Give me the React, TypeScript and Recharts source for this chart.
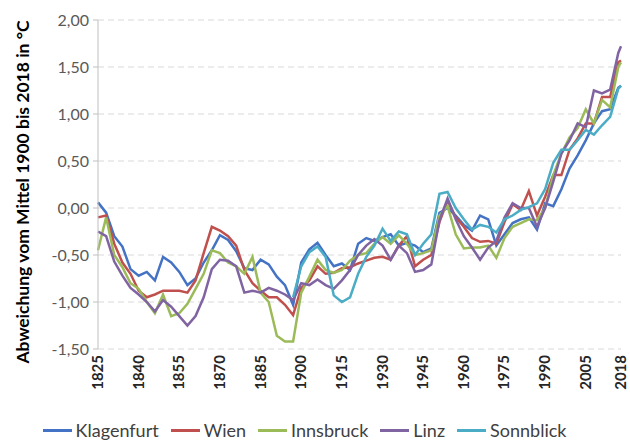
import { CartesianGrid, Legend, Line, LineChart, XAxis, YAxis } from 'recharts'

const years = [
  1825, 1828, 1831, 1834, 1837, 1840, 1843, 1846, 1849, 1852,
  1855, 1858, 1861, 1864, 1867, 1870, 1873, 1876, 1879, 1882,
  1885, 1888, 1891, 1894, 1897, 1900, 1903, 1906, 1909, 1912,
  1915, 1918, 1921, 1924, 1927, 1930, 1933, 1936, 1939, 1942,
  1945, 1948, 1951, 1954, 1957, 1960, 1963, 1966, 1969, 1972,
  1975, 1978, 1981, 1984, 1987, 1990, 1993, 1996, 1999, 2002,
  2005, 2008, 2011, 2014, 2017, 2018,
]

const klagenfurt = [
  0.06, -0.05, -0.3, -0.41, -0.65, -0.72, -0.68, -0.77, -0.52, -0.58,
  -0.68, -0.82, -0.75, -0.58, -0.45, -0.29, -0.34, -0.46, -0.64, -0.66,
  -0.55, -0.6, -0.73, -0.82, -1.03, -0.58, -0.44, -0.37, -0.5, -0.62,
  -0.59, -0.66, -0.38, -0.32, -0.35, -0.31, -0.28, -0.4, -0.37, -0.4,
  -0.47, -0.43, -0.05, 0.0, -0.08, -0.18, -0.24, -0.08, -0.12, -0.4,
  -0.28, -0.16, -0.12, -0.1, -0.23, 0.05, 0.02, 0.2, 0.42, 0.56,
  0.72, 0.9, 1.03, 1.05, 1.28, 1.3,
]

const wien = [
  -0.1, -0.08, -0.38, -0.58, -0.7, -0.88, -0.95, -0.92, -0.88, -0.88,
  -0.88, -0.9, -0.77, -0.48, -0.2, -0.24, -0.3, -0.4, -0.66, -0.8,
  -0.88, -0.95, -0.95, -1.03, -1.14, -0.85, -0.77, -0.62, -0.7, -0.69,
  -0.64, -0.63, -0.59, -0.56, -0.53, -0.52, -0.55, -0.4, -0.3, -0.62,
  -0.55, -0.5, -0.15, 0.08, -0.1, -0.2, -0.32, -0.36, -0.35, -0.38,
  -0.15, 0.04, -0.02, 0.18, -0.08, 0.12, 0.35, 0.35, 0.62, 0.74,
  0.9, 0.9, 1.18, 1.18, 1.55, 1.57,
]

const innsbruck = [
  -0.45, -0.1, -0.5, -0.63, -0.8, -0.86, -1.0, -1.12, -0.92, -1.15,
  -1.12, -1.02, -0.86, -0.7, -0.45, -0.48, -0.58, -0.62, -0.7, -0.52,
  -0.9, -1.0, -1.36, -1.42, -1.42, -0.9, -0.73, -0.55, -0.66, -0.69,
  -0.66, -0.56, -0.5, -0.48, -0.38, -0.31, -0.38, -0.29, -0.38, -0.5,
  -0.48, -0.45, -0.08, 0.02, -0.28, -0.43, -0.42, -0.42, -0.4, -0.53,
  -0.32, -0.2, -0.16, -0.12, -0.13, 0.0, 0.35, 0.58, 0.75, 0.85,
  1.05, 0.9, 1.15, 1.07, 1.5, 1.55,
]

const linz = [
  -0.25, -0.3, -0.57, -0.72, -0.85, -0.92, -1.0, -1.1, -0.98, -1.05,
  -1.15, -1.25, -1.15, -0.95, -0.65, -0.55, -0.56, -0.62, -0.9, -0.88,
  -0.9, -0.85, -0.88, -0.92, -0.98, -0.8, -0.82, -0.76, -0.82, -0.86,
  -0.77, -0.66, -0.5, -0.4, -0.33, -0.4, -0.55, -0.4, -0.48, -0.68,
  -0.66, -0.6, -0.13, 0.1, -0.12, -0.3, -0.42, -0.55, -0.42, -0.35,
  -0.1, 0.05, 0.0, 0.0, -0.2, 0.0, 0.28, 0.58, 0.72, 0.9,
  0.86, 1.25, 1.22, 1.26, 1.65, 1.72,
]

const sonnblick = [
  null, null, null, null, null, null, null, null, null, null,
  null, null, null, null, null, null, null, null, null, null,
  null, null, null, null, -0.95, -0.62, -0.47, -0.41, -0.52, -0.93,
  -1.0, -0.95, -0.7, -0.52, -0.4, -0.22, -0.35, -0.25, -0.28, -0.5,
  -0.38, -0.28, 0.15, 0.17, 0.0, -0.12, -0.23, -0.18, -0.2, -0.26,
  -0.12, -0.08, -0.02, 0.01, 0.05, 0.2, 0.48, 0.62, 0.62, 0.72,
  0.83, 0.78, 0.88, 0.97, 1.27, 1.3,
]

const xTicks = [1825, 1840, 1855, 1870, 1885, 1900, 1915, 1930, 1945, 1960, 1975, 1990, 2005, 2018]
const yTicks = [-1.5, -1, -0.5, 0, 0.5, 1, 1.5, 2]

const series = [
  { name: 'Klagenfurt', color: '#4472C4', values: klagenfurt },
  { name: 'Wien', color: '#C0504D', values: wien },
  { name: 'Innsbruck', color: '#9BBB59', values: innsbruck },
  { name: 'Linz', color: '#8064A2', values: linz },
  { name: 'Sonnblick', color: '#4BACC6', values: sonnblick },
]

const data = years.map((year, i) => {
  const row: Record<string, number | null> = { year }
  series.forEach((s) => {
    row[s.name] = s.values[i]
  })
  return row
})

const font = 'Lato, "Open Sans", sans-serif'

function YearTick({ x, y, payload }: any) {
  return (
    <text
      x={x}
      y={y}
      dy={5}
      transform={`rotate(-90 ${x} ${y})`}
      textAnchor="end"
      fontFamily={font}
      fontSize={15}
      fontWeight="bold"
      fill="#262626"
    >
      {payload.value}
    </text>
  )
}

function LegendContent() {
  return (
    <div
      style={{
        display: 'flex',
        justifyContent: 'center',
        height: 36,
        paddingTop: 18,
        boxSizing: 'border-box',
        fontFamily: font,
        fontSize: 18,
        lineHeight: '22px',
        color: '#404040',
      }}
    >
      {series.map((s) => (
        <span key={s.name} style={{ display: 'flex', alignItems: 'center', marginRight: 12 }}>
          <span style={{ width: 29, height: 3, background: s.color, marginRight: 4 }} />
          {s.name}
        </span>
      ))}
    </div>
  )
}

export default function App() {
  return (
    <div style={{ position: 'absolute', left: 0, top: 0, background: '#fff' }}>
      <LineChart width={630} height={443} data={data} margin={{ top: 20, right: 9, bottom: 4, left: 0 }}>
        <CartesianGrid vertical={false} stroke="#D9D9D9" strokeDasharray="6 4" />
        <XAxis
          dataKey="year"
          type="number"
          domain={[1825, 2018]}
          ticks={xTicks}
          interval={0}
          tick={<YearTick />}
          tickLine={false}
          axisLine={false}
          tickSize={0}
          tickMargin={6}
          height={54}
        />
        <YAxis
          domain={[-1.5, 2]}
          ticks={yTicks}
          interval={0}
          width={98}
          tickFormatter={(v: number) => v.toFixed(2).replace('.', ',')}
          tick={{ fontFamily: font, fontSize: 16, fill: '#595959' }}
          axisLine={{ stroke: '#BFBFBF' }}
          tickLine={{ stroke: '#BFBFBF' }}
          tickSize={5}
          tickMargin={4}
          label={{
            content: () => (
              <text
                x={22}
                y={192}
                transform="rotate(-90 22 192)"
                textAnchor="middle"
                dominantBaseline="central"
                fontFamily={font}
                fontSize={17.5}
                fontWeight="bold"
                fill="#000"
              >
                Abweichung vom Mittel 1900 bis 2018 in °C
              </text>
            ),
          }}
        />
        <Legend verticalAlign="bottom" height={36} content={LegendContent} />
        {series.map((s) => (
          <Line
            key={s.name}
            dataKey={s.name}
            stroke={s.color}
            strokeWidth={2.5}
            dot={false}
            isAnimationActive={false}
          />
        ))}
      </LineChart>
    </div>
  )
}
